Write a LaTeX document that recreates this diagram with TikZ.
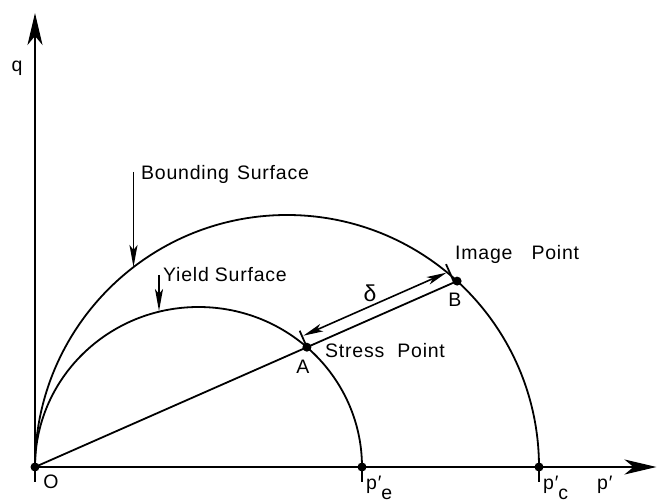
\documentclass[tikz,border=0pt]{standalone}
\usepackage{fontspec}
\setmainfont{Liberation Sans}[LetterSpace=4]
\usetikzlibrary{arrows.meta,calc}
\begin{document}
\begin{tikzpicture}[x=1pt,y=1pt,
  curve/.style={line width=1.8pt},
  axis/.style={line width=2.2pt,-{Stealth[length=32pt,width=15pt,inset=9pt]}},
  lblarrow/.style={line width=1.6pt,-{Stealth[length=22pt,width=8pt,inset=5pt]}},
  dimarrow/.style={line width=1.6pt,{Stealth[length=20pt,width=8pt,inset=5pt]}-{Stealth[length=20pt,width=8pt,inset=5pt]}},
  lbl/.style={font=\fontsize{19.5}{22}\selectfont, inner sep=0pt}]
\useasboundingbox (0,0) rectangle (657,504);
% key points
\coordinate (O) at (35,37);
\coordinate (Pe) at (362,37);
\coordinate (Pc) at (539,37);
\coordinate (B) at (457.1,222.9);
\coordinate (A) at (306.9,156.8);
\coordinate (qtop) at (35,491);
\coordinate (qbot) at (35,22);
\coordinate (pend) at (656.5,37);
% axes
\draw[axis] (qbot) -- (qtop);
\draw[axis] (O) -- (pend);
\draw[curve] (Pe) -- (Pe |- qbot);
\draw[curve] (Pc) -- (Pc |- qbot);
% surfaces
\draw[curve] (O) arc[start angle=180, end angle=0, x radius=252, y radius=252];
\draw[curve] (O) arc[start angle=180, end angle=0, x radius=163.5, y radius=160];
% radial line
\draw[curve] (O) -- (B);
% ticks
\draw[curve] ($(A)!-2pt!90:(B)$) -- ($(A)!18pt!90:(B)$);
\coordinate (Bt) at ($(O)!458pt!(B)$);
\draw[curve] (Bt) -- ($(Bt)!20pt!90:(B)$);
% delta arrow
\coordinate (a1) at ($(O)!298.5pt!(B)$);
\coordinate (a2) at ($(O)!455pt!(B)$);
\coordinate (d1) at ($(a1)!12pt!90:(B)$);
\coordinate (d2) at ($(a2)!12pt!90:(B)$);
\draw[dimarrow] (d1) -- (d2);
% label arrows
\coordinate (bs1) at (133.5,332);
\coordinate (bs2) at (133.5,237);
\coordinate (ys1) at (159,229);
\coordinate (ys2) at (159,193);
\draw[lblarrow] (bs1) -- (bs2);
\draw[lblarrow] (ys1) -- (ys2);
% dots
\foreach \p in {O,Pe,Pc,A,B} \fill (\p) circle (4.5);
% labels
\node[lbl,anchor=base] (qlbl) at (17,432) {q};
\node[lbl] (Olbl) at (51,22) {O};
\node[lbl,anchor=base west] (bslbl) at (141,324) {Bounding\hspace{8pt}Surface};
\node[lbl,anchor=base west] (yslbl) at (163,222) {Yield\hspace{6pt}Surface};
\node[lbl,anchor=base west] (iplbl) at (455,244) {Image\hspace{19pt}Point};
\node[lbl,anchor=base west] (splbl) at (325,146) {Stress\hspace{13pt}Point};
\node[lbl] (Albl) at (303,137) {A};
\node[lbl] (Blbl) at (455,204) {B};
\node[lbl,font=\fontsize{23}{24}\selectfont] (dlbl) at (370,211) {δ};
\node[lbl,anchor=base west] (pelbl) at (366,14) {p′\raisebox{-10pt}{e}};
\node[lbl,anchor=base west] (pclbl) at (543,14) {p′\raisebox{-10pt}{c}};
\node[lbl,anchor=base west] (plbl) at (597,14) {p′};
\end{tikzpicture}
\end{document}
